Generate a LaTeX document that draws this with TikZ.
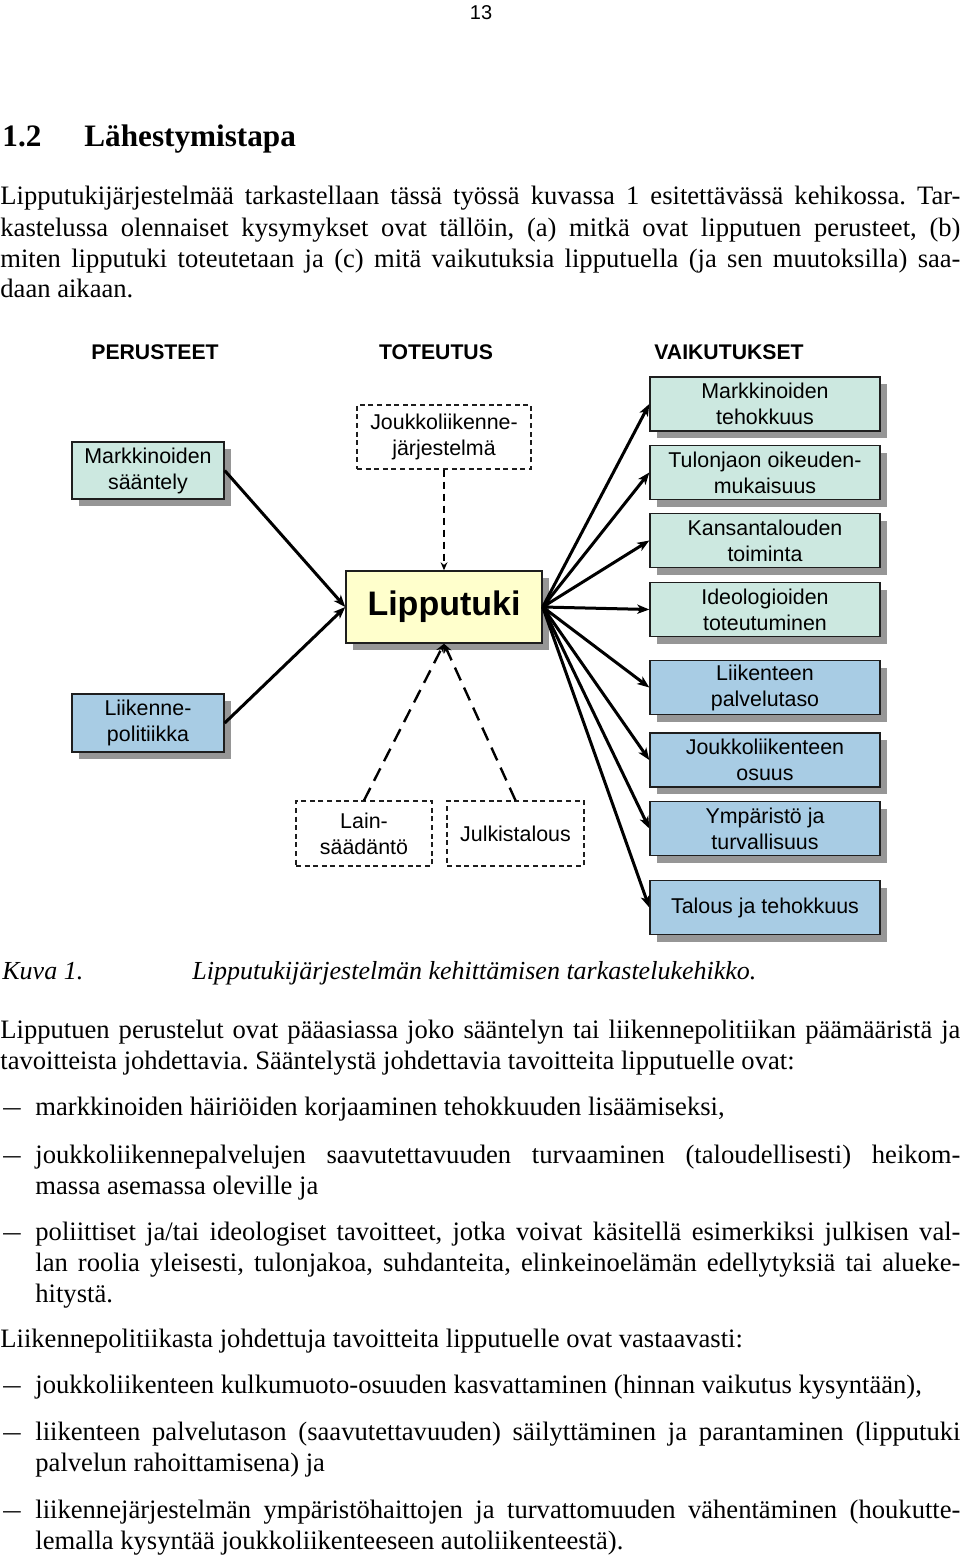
\documentclass[tikz,border=0pt]{standalone}
\usepackage{fontspec}
\setmainfont{Liberation Serif}
\newfontfamily\arialf{Liberation Sans}
\usetikzlibrary{arrows.meta,shadows}
\definecolor{tealfill}{RGB}{204,232,224}
\definecolor{bluefill}{RGB}{168,204,228}
\definecolor{yelfill}{RGB}{255,255,204}
\definecolor{shadowgray}{RGB}{150,150,150}
\definecolor{edge}{RGB}{30,30,30}
\frenchspacing
\begin{document}
\begin{tikzpicture}[x=0.5pt,y=-0.5pt,
  body/.style={anchor=base west,inner sep=0pt,font=\fontsize{13.3pt}{15.5pt}\selectfont},
  capt/.style={body,font=\itshape\fontsize{13pt}{15.5pt}\selectfont},
  dtext/.style={font=\arialf\fontsize{10.7pt}{13pt}\selectfont, align=center, inner sep=0pt},
  hdr/.style={font=\arialf\bfseries\fontsize{10.6pt}{12pt}\selectfont, inner sep=0pt},
  sbox/.style={dtext, draw=edge, line width=0.7pt,
     drop shadow={shadow xshift=3.5pt,shadow yshift=-3.5pt,fill=shadowgray,opacity=1}},
  tbox/.style={sbox, fill=tealfill},
  bbox/.style={sbox, fill=bluefill},
  rbox/.style={minimum width=115pt, minimum height=27pt},
  dbox/.style={dtext, draw=edge, line width=0.6pt, dash pattern=on 2.5pt off 1.8pt},
  conn/.style={line width=1.5pt, -{Stealth[length=6pt,width=4.6pt,inset=1.6pt]}},
  dconn/.style={line width=0.9pt, dash pattern=on 3.5pt off 2.5pt, -{Stealth[length=4pt,width=3.4pt]}},
  bconn/.style={line width=1.2pt, dash pattern=on 7pt off 4pt, -{Stealth[length=4.5pt,width=4pt]}},
]
\fill[white] (0,0) rectangle (960,1557);
\useasboundingbox (0,0) rectangle (960,1557);

% page number and heading
\node[anchor=base, inner sep=0pt, font=\arialf\fontsize{10pt}{12pt}\selectfont] (pg) at (481,20) {13};
\node[anchor=base west, inner sep=0pt, font=\bfseries\fontsize{15.6pt}{18pt}\selectfont] (hn) at (2,147) {1.2};
\node[anchor=base west, inner sep=0pt, font=\bfseries\fontsize{15.6pt}{18pt}\selectfont] (ht) at (84,147) {Lähestymistapa};

% paragraph 1
\node[body] (p1a) at (0,205) {\makebox[480pt][s]{Lipputukijärjestelmää tarkastellaan tässä työssä kuvassa 1 esitettävässä kehikossa. Tar-}};
\node[body] (p1b) at (0,236) {\makebox[480pt][s]{kastelussa olennaiset kysymykset ovat tällöin, (a) mitkä ovat lipputuen perusteet, (b)}};
\node[body] (p1c) at (0,267) {\makebox[480pt][s]{miten lipputuki toteutetaan ja (c) mitä vaikutuksia lipputuella (ja sen muutoksilla) saa-}};
\node[body] (p1d) at (0,298) {daan aikaan.};

% diagram headers
\node[hdr] (hA) at (155,352) {PERUSTEET};
\node[hdr] (hB) at (436,352) {TOTEUTUS};
\node[hdr] (hC) at (729,352) {VAIKUTUKSET};

% left boxes
\node[tbox, minimum width=76pt, minimum height=28.5pt] (ms) at (148,470.5) {Markkinoiden\\sääntely};
\node[bbox, minimum width=76pt, minimum height=29pt] (lp) at (148,723) {Liikenne-\\politiikka};

% middle
\node[dbox, minimum width=87pt, minimum height=32pt] (jl) at (444,437) {Joukkoliikenne-\\järjestelmä};
\node[sbox, fill=yelfill, minimum width=98pt, minimum height=36pt,
      font=\arialf\bfseries\fontsize{17pt}{20pt}\selectfont] (lt) at (444,607) {Lipputuki};
\node[dbox, minimum width=68pt, minimum height=32.5pt] (la) at (364,833.5) {Lain-\\säädäntö};
\node[dbox, minimum width=68.5pt, minimum height=32.5pt] (ju) at (515.5,833.5) {Julkistalous};

% right boxes
\node[tbox, rbox] (r1) at (765,404) {Markkinoiden\\tehokkuus};
\node[tbox, rbox] (r2) at (765,472.5) {Tulonjaon oikeuden-\\mukaisuus};
\node[tbox, rbox] (r3) at (765,540.5) {Kansantalouden\\toiminta};
\node[tbox, rbox] (r4) at (765,609.5) {Ideologioiden\\toteutuminen};
\node[bbox, rbox] (r5) at (765,687.5) {Liikenteen\\palvelutaso};
\node[bbox, rbox] (r6) at (765,760) {Joukkoliikenteen\\osuus};
\node[bbox, rbox] (r7) at (765,828.5) {Ympäristö ja\\turvallisuus};
\node[bbox, rbox] (r8) at (765,907.5) {Talous ja tehokkuus};

% connectors
\draw[conn] (ms.east) -- (lt.west);
\draw[conn] (lp.east) -- (lt.west);
\foreach \r in {r1,r2,r3,r4,r5,r6,r7,r8} { \draw[conn] (lt.east) -- (\r.west); }
\draw[dconn] (jl.south) -- (lt.north);
\draw[bconn] (la.north) -- (lt.south);
\draw[bconn] (ju.north) -- (lt.south);

% caption
\node[capt] (k1) at (2,979) {Kuva 1.};
\node[capt] (k2) at (192,979) {Lipputukijärjestelmän kehittämisen tarkastelukehikko.};

% paragraph 2
\node[body] (p2a) at (0,1038) {\makebox[480pt][s]{Lipputuen perustelut ovat pääasiassa joko sääntelyn tai liikennepolitiikan päämääristä ja}};
\node[body] (p2b) at (0,1069) {tavoitteista johdettavia. Sääntelystä johdettavia tavoitteita lipputuelle ovat:};

\node[body] (d1) at (3,1115) {\scalebox{1.3}[1]{–}};
\node[body] (b1) at (35,1115) {markkinoiden häiriöiden korjaaminen tehokkuuden lisäämiseksi,};
\node[body] (d2) at (3,1163) {\scalebox{1.3}[1]{–}};
\node[body] (b2a) at (35,1163) {\makebox[462.5pt][s]{joukkoliikennepalvelujen saavutettavuuden turvaaminen (taloudellisesti) heikom-}};
\node[body] (b2b) at (35,1194) {massa asemassa oleville ja};
\node[body] (d3) at (3,1240) {\scalebox{1.3}[1]{–}};
\node[body] (b3a) at (35,1240) {\makebox[462.5pt][s]{poliittiset ja/tai ideologiset tavoitteet, jotka voivat käsitellä esimerkiksi julkisen val-}};
\node[body] (b3b) at (35,1271) {\makebox[462.5pt][s]{lan roolia yleisesti, tulonjakoa, suhdanteita, elinkeinoelämän edellytyksiä tai alueke-}};
\node[body] (b3c) at (35,1302) {hitystä.};

\node[body] (p3) at (0,1347) {Liikennepolitiikasta johdettuja tavoitteita lipputuelle ovat vastaavasti:};
\node[body] (d4) at (3,1393) {\scalebox{1.3}[1]{–}};
\node[body] (b4) at (35,1393) {joukkoliikenteen kulkumuoto-osuuden kasvattaminen (hinnan vaikutus kysyntään),};
\node[body] (d5) at (3,1440) {\scalebox{1.3}[1]{–}};
\node[body] (b5a) at (35,1440) {\makebox[462.5pt][s]{liikenteen palvelutason (saavutettavuuden) säilyttäminen ja parantaminen (lipputuki}};
\node[body] (b5b) at (35,1471) {palvelun rahoittamisena) ja};
\node[body] (d6) at (3,1518) {\scalebox{1.3}[1]{–}};
\node[body] (b6a) at (35,1518) {\makebox[462.5pt][s]{liikennejärjestelmän ympäristöhaittojen ja turvattomuuden vähentäminen (houkutte-}};
\node[body] (b6b) at (35,1549) {lemalla kysyntää joukkoliikenteeseen autoliikenteestä).};
\end{tikzpicture}
\end{document}
